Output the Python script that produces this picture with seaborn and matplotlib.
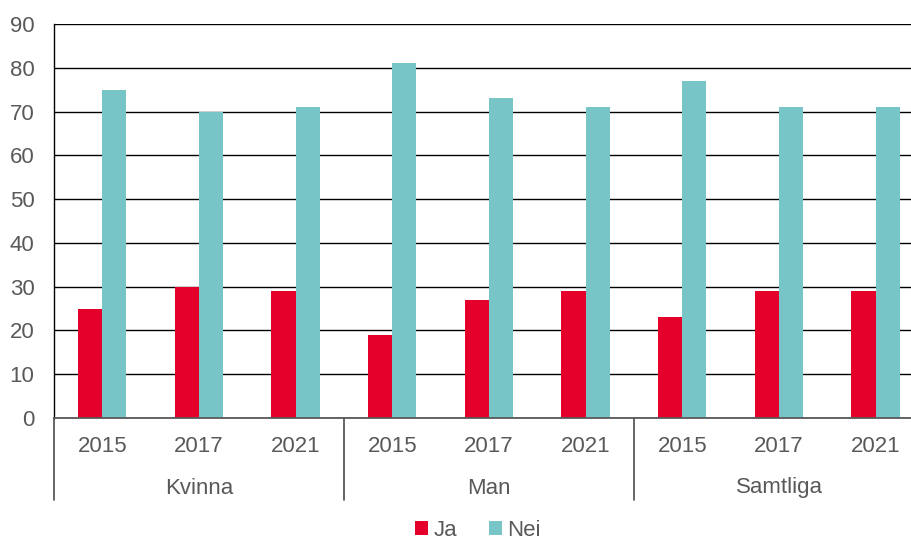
import pandas as pd
import seaborn as sns
import matplotlib.pyplot as plt
import matplotlib.transforms as mtransforms

groups = ['Kvinna', 'Man', 'Samtliga']
years = ['2015', '2017', '2021']
ja = [25, 30, 29, 19, 27, 29, 23, 29, 29]
nei = [75, 70, 71, 81, 73, 71, 77, 71, 71]

# long table for seaborn
cats = [g + ' ' + y for g in groups for y in years]
df = pd.DataFrame({
    'cat': cats * 2,
    'svar': ['Ja'] * len(cats) + ['Nei'] * len(cats),
    'andel': ja + nei,
})

sns.set_theme(style='white')
plt.rcParams['font.family'] = ['Liberation Sans', 'DejaVu Sans']
grey = '#595959'

fig = plt.figure(figsize=(9.12, 5.42), dpi=100)
ax = fig.add_axes([54 / 912, 1 - 418 / 542, 1 - 54 / 912, 394 / 542])

sns.barplot(ax=ax, data=df, x='cat', y='andel', hue='svar', order=cats,
            palette={'Ja': '#E4002B', 'Nei': '#78C5C7'}, width=0.5,
            saturation=1, linewidth=0, legend=True)

ax.set_ylim(0, 90)
ax.set_yticks(range(0, 91, 10))
ax.set_xlim(-0.5, 8.5 - 12 / 96.7)
ax.yaxis.grid(True, color='black', linewidth=1)
ax.set_axisbelow(True)
ax.set_xlabel('')
ax.set_ylabel('')

for s in ['top', 'right']:
    ax.spines[s].set_visible(False)
ax.spines['left'].set_color('black')
ax.spines['left'].set_linewidth(1)
ax.spines['bottom'].set_color(grey)
ax.spines['bottom'].set_linewidth(1.3)

ax.set_xticks(range(len(cats)))
ax.set_xticklabels(years * 3)
ax.tick_params(axis='x', length=0, pad=13, labelsize=16, colors=grey)
ax.tick_params(axis='y', length=0, pad=14, labelsize=16, colors=grey)

# group separators and group labels under the axis
trans = mtransforms.blended_transform_factory(ax.transData, ax.transAxes)
for b in [-0.5, 2.5, 5.5]:
    ax.plot([b, b], [0, -82 / 394], transform=trans, color=grey,
            linewidth=1.3, clip_on=False)
for i, g in enumerate(groups):
    ax.text(i * 3 + 1, -70 / 394, g, transform=trans, ha='center',
            va='center', fontsize=16, color=grey)

handles, labels = ax.get_legend_handles_labels()
ax.get_legend().remove()
fig.legend(handles, labels, loc='center', bbox_to_anchor=(478 / 912, 12 / 542),
           ncol=2, frameon=False, fontsize=16, labelcolor=grey,
           handlelength=0.6, handleheight=0.6, handletextpad=0.25,
           columnspacing=1.4, borderpad=0)

fig.savefig('out.png', dpi=100)
